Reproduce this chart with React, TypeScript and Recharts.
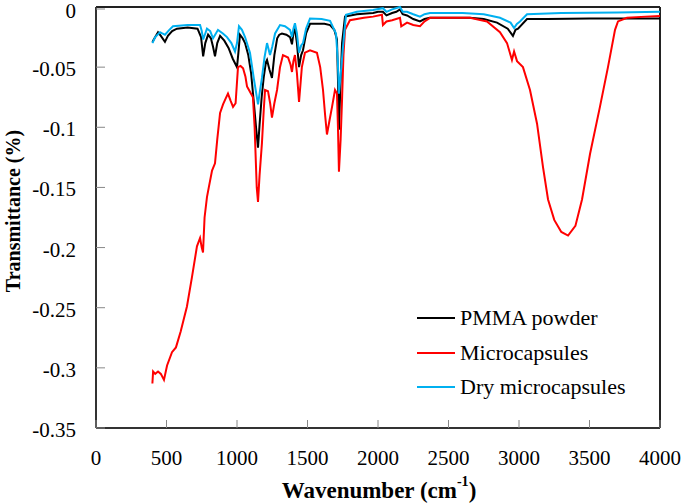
import React from 'react';
import { LineChart, Line, XAxis, YAxis, ReferenceLine, Legend } from 'recharts';

// [wavenumber (cm-1), transmittance]
const pmmaPowder: [number, number][] = [
  [400, -0.029], [420, -0.025], [440, -0.021], [460, -0.024], [489, -0.029], [510, -0.024],
  [540, -0.02], [574, -0.018], [650, -0.017], [720, -0.018], [745, -0.025], [760, -0.041],
  [775, -0.03], [795, -0.023], [815, -0.026], [830, -0.033], [844, -0.041], [860, -0.03],
  [880, -0.024], [910, -0.028], [940, -0.034], [970, -0.043], [1000, -0.05], [1010, -0.038],
  [1021, -0.023], [1040, -0.026], [1057, -0.03], [1080, -0.04], [1100, -0.055], [1120, -0.08],
  [1135, -0.1], [1149, -0.117], [1160, -0.098], [1175, -0.075], [1190, -0.058], [1205, -0.046],
  [1213, -0.044], [1230, -0.052], [1248, -0.059], [1265, -0.04], [1285, -0.026], [1300, -0.023],
  [1319, -0.022], [1350, -0.023], [1376, -0.025], [1390, -0.031], [1400, -0.022], [1411, -0.018],
  [1425, -0.03], [1440, -0.05], [1455, -0.04], [1468, -0.036], [1490, -0.022], [1518, -0.014],
  [1560, -0.014], [1620, -0.014], [1660, -0.015], [1690, -0.019], [1709, -0.027], [1716, -0.06],
  [1723, -0.102], [1732, -0.07], [1745, -0.03], [1766, -0.008], [1850, -0.006], [1965, -0.005],
  [2000, -0.004], [2035, -0.004], [2060, -0.007], [2100, -0.005], [2130, -0.004], [2156, -0.002],
  [2175, -0.006], [2206, -0.007], [2250, -0.01], [2298, -0.012], [2330, -0.01], [2369, -0.009],
  [2500, -0.009], [2652, -0.009], [2750, -0.01], [2844, -0.013], [2920, -0.018], [2957, -0.024],
  [2975, -0.019], [2993, -0.018], [3057, -0.01], [3200, -0.01], [3500, -0.0095], [3800, -0.0095],
  [4000, -0.0095],
];

const microcapsules: [number, number][] = [
  [400, -0.313], [405, -0.303], [420, -0.305], [440, -0.303], [460, -0.305], [482, -0.31],
  [504, -0.298], [539, -0.287], [567, -0.283], [600, -0.27], [645, -0.249], [680, -0.225],
  [716, -0.199], [738, -0.192], [750, -0.2], [759, -0.204], [770, -0.175], [787, -0.158],
  [800, -0.15], [823, -0.136], [844, -0.13], [860, -0.11], [880, -0.088], [901, -0.081],
  [920, -0.076], [936, -0.072], [955, -0.078], [972, -0.083], [990, -0.08], [1007, -0.05],
  [1025, -0.049], [1043, -0.051], [1060, -0.058], [1071, -0.066], [1090, -0.07], [1113, -0.075],
  [1125, -0.1], [1140, -0.15], [1149, -0.162], [1160, -0.14], [1177, -0.113], [1190, -0.085],
  [1199, -0.069], [1220, -0.07], [1235, -0.08], [1248, -0.092], [1265, -0.08], [1284, -0.069],
  [1305, -0.05], [1326, -0.04], [1362, -0.042], [1380, -0.048], [1390, -0.054], [1400, -0.045],
  [1411, -0.04], [1425, -0.055], [1440, -0.079], [1460, -0.05], [1482, -0.038], [1518, -0.036],
  [1567, -0.038], [1590, -0.05], [1610, -0.069], [1625, -0.09], [1638, -0.106], [1655, -0.095],
  [1674, -0.083], [1695, -0.069], [1709, -0.072], [1716, -0.1], [1723, -0.137], [1735, -0.11],
  [1745, -0.077], [1755, -0.04], [1766, -0.019], [1801, -0.011], [1900, -0.009], [1965, -0.008],
  [2028, -0.0065], [2035, -0.015], [2060, -0.012], [2100, -0.011], [2156, -0.009], [2165, -0.016],
  [2206, -0.013], [2250, -0.015], [2298, -0.016], [2330, -0.012], [2369, -0.009], [2500, -0.009],
  [2652, -0.009], [2773, -0.012], [2865, -0.021], [2915, -0.03], [2950, -0.044], [2965, -0.037],
  [2986, -0.045], [3028, -0.05], [3078, -0.069], [3128, -0.097], [3170, -0.133], [3206, -0.16],
  [3250, -0.177], [3300, -0.187], [3348, -0.19], [3400, -0.182], [3447, -0.16], [3504, -0.122],
  [3574, -0.083], [3631, -0.05], [3681, -0.019], [3702, -0.012], [3766, -0.009], [3900, -0.008],
  [4000, -0.0075],
];

const dryMicrocapsules: [number, number][] = [
  [400, -0.03], [420, -0.025], [454, -0.021], [470, -0.022], [489, -0.023], [520, -0.019],
  [546, -0.016], [650, -0.015], [738, -0.015], [750, -0.02], [760, -0.027], [775, -0.022],
  [787, -0.018], [810, -0.02], [830, -0.026], [845, -0.023], [865, -0.019], [900, -0.022],
  [929, -0.025], [960, -0.03], [986, -0.037], [1000, -0.03], [1014, -0.016], [1035, -0.019],
  [1057, -0.025], [1092, -0.038], [1120, -0.06], [1149, -0.081], [1165, -0.068], [1177, -0.059],
  [1195, -0.042], [1213, -0.03], [1234, -0.04], [1250, -0.033], [1270, -0.022], [1305, -0.015],
  [1340, -0.016], [1376, -0.019], [1390, -0.025], [1400, -0.018], [1411, -0.0135], [1425, -0.022],
  [1440, -0.038], [1455, -0.032], [1468, -0.03], [1490, -0.018], [1518, -0.0095], [1600, -0.01],
  [1660, -0.0115], [1702, -0.022], [1715, -0.045], [1723, -0.072], [1740, -0.05], [1752, -0.033],
  [1773, -0.0065], [1850, -0.004], [1965, -0.0025], [2035, -0.001], [2060, -0.004], [2100, -0.002],
  [2156, 0], [2175, -0.004], [2206, -0.004], [2250, -0.006], [2298, -0.008], [2330, -0.006],
  [2369, -0.005], [2600, -0.005], [2750, -0.006], [2865, -0.009], [2940, -0.013], [2965, -0.0175],
  [2985, -0.014], [3007, -0.012], [3057, -0.006], [3300, -0.005], [3700, -0.0045], [4000, -0.004],
];

const xTicks = [0, 500, 1000, 1500, 2000, 2500, 3000, 3500, 4000];
const yTicks = [-0.35, -0.3, -0.25, -0.2, -0.15, -0.1, -0.05, 0];

const series = [
  { name: 'PMMA powder', color: '#000000', points: pmmaPowder },
  { name: 'Microcapsules', color: '#ff0000', points: microcapsules },
  { name: 'Dry microcapsules', color: '#00b0f0', points: dryMicrocapsules },
];

const FONT = "'Liberation Serif', 'DejaVu Serif', serif";

const toRows = (pts: [number, number][]) => pts.map(([x, y]) => ({ x, y }));

const XTick = (props: any) => {
  const { x, y, payload } = props;
  return (
    <g>
      <line x1={x} x2={x} y1={y} y2={y - 8} stroke="#888" strokeWidth={1} />
      <text x={x} y={y + 30} textAnchor="middle" dominantBaseline="central" style={{ fontFamily: FONT }} fontSize={21} fill="#000">
        {payload.value}
      </text>
    </g>
  );
};

const YTick = (props: any) => {
  const { x, y, payload } = props;
  return (
    <g>
      <line x1={x} x2={x + 9} y1={y} y2={y} stroke="#888" strokeWidth={1} />
      <text x={x - 20} y={y + 2} textAnchor="end" dominantBaseline="central" style={{ fontFamily: FONT }} fontSize={21} fill="#000">
        {String(payload.value)}
      </text>
    </g>
  );
};

const LegendBox = () => (
  <div style={{ fontFamily: FONT, fontSize: 22, color: '#000' }}>
    {series.map((s) => (
      <div key={s.name} style={{ display: 'flex', alignItems: 'center', height: 34.5 }}>
        <div style={{ width: 38, height: 2, background: s.color, marginRight: 5 }} />
        <span style={{ whiteSpace: 'nowrap' }}>{s.name}</span>
      </div>
    ))}
  </div>
);

export default function App() {
  return (
    <div style={{ position: 'absolute', left: 0, top: 0, width: 685, height: 503, background: '#fff', fontFamily: FONT }}>
      <LineChart width={685} height={503} margin={{ top: 7, right: 25, left: 0, bottom: 0 }}>
        <XAxis
          dataKey="x"
          type="number"
          domain={[0, 4000]}
          ticks={xTicks}
          allowDuplicatedCategory={false}
          height={75}
          tickSize={0}
          tickMargin={0}
          tickLine={false}
          tick={<XTick />}
          axisLine={{ stroke: '#333', strokeWidth: 2 }}
          label={{
            content: () => (
              <text x={379} y={490} textAnchor="middle" dominantBaseline="central" style={{ fontFamily: FONT }} fontSize={23} fontWeight="bold" fill="#000">
                Wavenumber (cm<tspan fontSize={14} dy={-9}>-1</tspan><tspan dy={9}>)</tspan>
              </text>
            ),
          }}
        />
        <YAxis
          type="number"
          domain={[-0.35, 0]}
          ticks={yTicks}
          width={96}
          tickSize={0}
          tickMargin={0}
          tickLine={false}
          tick={<YTick />}
          axisLine={{ stroke: '#333', strokeWidth: 2 }}
          label={{
            content: () => (
              <text x={13} y={211} transform="rotate(-90 13 211)" textAnchor="middle" dominantBaseline="central" style={{ fontFamily: FONT }} fontSize={20} fontWeight="bold" fill="#000">
                Transmittance (%)
              </text>
            ),
          }}
        />
        <ReferenceLine y={0} stroke="#222" strokeWidth={2} />
        <ReferenceLine x={4000} stroke="#222" strokeWidth={2} />
        <Legend
          layout="vertical"
          verticalAlign="middle"
          align="center"
          content={<LegendBox />}
          wrapperStyle={{ position: 'absolute', left: 417, top: 301, width: 260 }}
        />
        {series.map((s) => (
          <Line
            key={s.name}
            data={toRows(s.points)}
            dataKey="y"
            name={s.name}
            type="linear"
            dot={false}
            activeDot={false}
            stroke={s.color}
            strokeWidth={2}
            isAnimationActive={false}
          />
        ))}
      </LineChart>
    </div>
  );
}
